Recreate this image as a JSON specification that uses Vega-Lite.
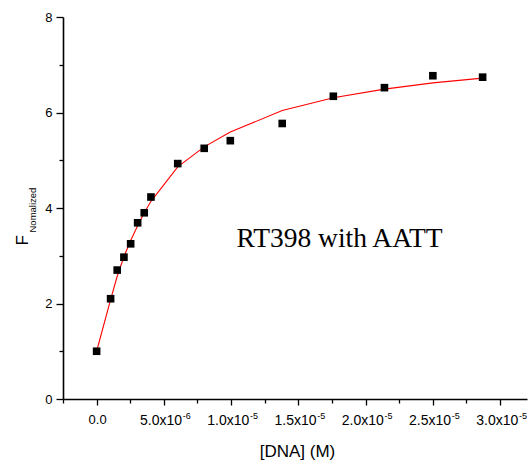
{
  "$schema": "https://vega.github.io/schema/vega-lite/v6.json",
  "width": 464,
  "height": 382,
  "autosize": {"type": "none"},
  "padding": {"left": 63, "top": 17, "right": 2, "bottom": 62},
  "background": "white",
  "config": {
    "view": {"stroke": null},
    "font": "Liberation Sans",
    "axis": {"grid": false, "labelFont": "Liberation Sans", "titleFont": "Liberation Sans", "labelColor": "black", "titleColor": "black", "titleFontWeight": "normal", "domainColor": "black", "tickColor": "black"}
  },
  "datasets": {
    "pts": [
      {"dna": 0, "f": 1.0},
      {"dna": 1.04e-6, "f": 2.10},
      {"dna": 1.53e-6, "f": 2.70},
      {"dna": 2.03e-6, "f": 2.97},
      {"dna": 2.53e-6, "f": 3.25},
      {"dna": 3.05e-6, "f": 3.69},
      {"dna": 3.54e-6, "f": 3.90},
      {"dna": 4.04e-6, "f": 4.23},
      {"dna": 6.03e-6, "f": 4.93},
      {"dna": 8.0e-6, "f": 5.25},
      {"dna": 9.94e-6, "f": 5.41},
      {"dna": 1.38e-5, "f": 5.77},
      {"dna": 1.76e-5, "f": 6.34},
      {"dna": 2.14e-5, "f": 6.52},
      {"dna": 2.50e-5, "f": 6.77},
      {"dna": 2.87e-5, "f": 6.74}
    ],
    "fit": [
      {"dna": 0, "f": 1.0},
      {"dna": 1.04e-6, "f": 2.08},
      {"dna": 1.53e-6, "f": 2.57},
      {"dna": 2.03e-6, "f": 2.98},
      {"dna": 2.53e-6, "f": 3.32},
      {"dna": 3.05e-6, "f": 3.63},
      {"dna": 3.54e-6, "f": 3.90},
      {"dna": 4.04e-6, "f": 4.14},
      {"dna": 6.03e-6, "f": 4.86},
      {"dna": 8.0e-6, "f": 5.28},
      {"dna": 9.94e-6, "f": 5.59},
      {"dna": 1.38e-5, "f": 6.04},
      {"dna": 1.76e-5, "f": 6.31},
      {"dna": 2.14e-5, "f": 6.49},
      {"dna": 2.50e-5, "f": 6.62},
      {"dna": 2.87e-5, "f": 6.72}
    ],
    "note": [
      {"dna": 1.04e-5, "f": 3.19, "text": "RT398 with AATT"}
    ]
  },
  "resolve": {"axis": {"x": "independent", "y": "independent"}},
  "layer": [
    {
      "data": {"name": "fit"},
      "mark": {"type": "line", "color": "#ff0000", "strokeWidth": 1.1, "clip": true},
      "encoding": {
        "x": {
          "field": "dna", "type": "quantitative",
          "scale": {"domain": [-2.5e-6, 3.2e-5], "nice": false, "zero": false},
          "axis": {
            "orient": "bottom",
            "values": [-2.5e-6, 0, 2.5e-6, 5e-6, 7.5e-6, 1e-5, 1.25e-5, 1.5e-5, 1.75e-5, 2e-5, 2.25e-5, 2.5e-5, 2.75e-5, 3e-5],
            "labelExpr": "round(datum.value/2.5e-6) % 2 != 0 ? '' : (round(datum.value/5e-6) == 0 ? '0.0' : ['0.0','5.0x10','1.0x10','1.5x10','2.0x10','2.5x10','3.0x10'][round(datum.value/5e-6)])",
            "labelAlign": {"condition": {"test": "round(datum.value/5e-6) == 0", "value": "center"}, "value": "right"},
            "labelOffset": {"condition": {"test": "round(datum.value/5e-6) == 0", "value": 0.5}, "value": 17.7},
            "labelFontSize": {"condition": {"test": "round(datum.value/5e-6) == 0", "value": 13}, "value": 14},
            "labelPadding": 8.5,
            "labelOverlap": false,
            "labelFlush": false,
            "labelBound": false,
            "tickSize": {"condition": {"test": "round(datum.value/2.5e-6) % 2 != 0", "value": 4}, "value": 6},
            "tickWidth": 1.3,
            "domainWidth": 1.6,
            "title": "[DNA] (M)",
            "titleFontSize": 17,
            "titleX": 234,
            "titleY": 57,
            "titleAlign": "center",
            "titleBaseline": "alphabetic"
          }
        },
        "y": {
          "field": "f", "type": "quantitative",
          "scale": {"domain": [0, 8], "nice": false},
          "axis": {
            "orient": "left",
            "values": [0, 1, 2, 3, 4, 5, 6, 7, 8],
            "labelExpr": "datum.value % 2 == 0 ? datum.label : ''",
            "labelFontSize": 13,
            "labelPadding": 4,
            "labelFlush": false,
            "labelOverlap": false,
            "tickSize": {"condition": {"test": "datum.value % 2 == 1", "value": 4}, "value": 7},
            "tickWidth": 1.3,
            "domainWidth": 1.6,
            "title": "F",
            "titleFontSize": 17,
            "titleAngle": -90,
            "titleX": -36,
            "titleY": 228,
            "titleAlign": "left",
            "titleBaseline": "alphabetic"
          }
        }
      }
    },
    {
      "data": {"name": "pts"},
      "mark": {"type": "point", "shape": "square", "filled": true, "color": "black", "opacity": 1, "size": 58},
      "encoding": {
        "x": {
          "field": "dna", "type": "quantitative",
          "axis": {
            "orient": "bottom",
            "values": [5e-6, 1e-5, 1.5e-5, 2e-5, 2.5e-5, 3e-5],
            "labelExpr": "round(datum.value/5e-6) == 1 ? '-6' : '-5'",
            "labelAlign": "left",
            "labelOffset": 18.5,
            "labelFontSize": 9,
            "labelPadding": 6.5,
            "labelOverlap": false,
            "labelFlush": false,
            "labelBound": false,
            "domain": false,
            "ticks": true,
            "tickOpacity": 0,
            "tickSize": 6,
            "title": null
          }
        },
        "y": {
          "field": "f", "type": "quantitative",
          "axis": {
            "orient": "left",
            "domain": false,
            "ticks": false,
            "labels": false,
            "title": "Nomalized",
            "titleFontSize": 9.5,
            "titleAngle": -90,
            "titleX": -28,
            "titleY": 215,
            "titleAlign": "left",
            "titleBaseline": "alphabetic"
          }
        }
      }
    },
    {
      "data": {"name": "note"},
      "mark": {"type": "text", "font": "Liberation Serif", "fontSize": 27.5, "align": "left", "baseline": "alphabetic", "color": "black"},
      "encoding": {
        "x": {"field": "dna", "type": "quantitative", "axis": null},
        "y": {"field": "f", "type": "quantitative", "axis": null},
        "text": {"field": "text"}
      }
    }
  ]
}
